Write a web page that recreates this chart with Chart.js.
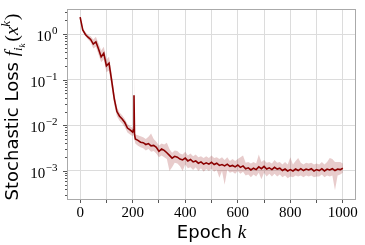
<!DOCTYPE html>
<html>
<head>
<meta charset="utf-8">
<script src="https://cdn.jsdelivr.net/npm/chart.js@4.4.1/dist/chart.umd.min.js"></script>
<style>
html, body { margin: 0; padding: 0; background: #fff; }
#wrap { width: 365px; height: 245px; }
</style>
</head>
<body>
<div id="wrap"><canvas id="lossChart"></canvas></div>
<script>
// epochs (a few extra points around the spike near 205)
var epochs = [0, 10, 20, 30, 40, 50, 60, 70, 80, 90,
    100, 110, 120, 130, 140, 150, 160, 170, 180, 190,
    200, 203, 205, 207,
    210, 220, 230, 240, 250, 260, 270, 280, 290, 300,
    310, 320, 330, 340, 350, 360, 370, 380, 390, 400,
    410, 420, 430, 440, 450, 460, 470, 480, 490, 500,
    510, 520, 530, 540, 550, 560, 570, 580, 590, 600,
    610, 620, 630, 640, 650, 660, 670, 680, 690, 700,
    710, 720, 730, 740, 750, 760, 770, 780, 790, 800,
    810, 820, 830, 840, 850, 860, 870, 880, 890, 900,
    910, 920, 930, 940, 950, 960, 970, 980, 990, 1000];

var lossMean = [2.34, 1.23, 0.977, 0.851, 0.759, 0.603, 0.676, 0.468, 0.316, 0.380,
    0.200, 0.229, 0.0955, 0.0380, 0.0200, 0.0158, 0.0138, 0.0115, 0.00871, 0.00794,
    0.00708, 0.00794, 0.0457, 0.00631,
    0.00501, 0.00468, 0.00427, 0.00417, 0.00380, 0.00398, 0.00355, 0.00363, 0.00331, 0.00269,
    0.00302, 0.00282, 0.00251, 0.00219, 0.00191, 0.00209, 0.00200, 0.00182, 0.00174, 0.00191,
    0.00166, 0.00178, 0.00158, 0.00166, 0.00148, 0.00158, 0.00141, 0.00151, 0.00141, 0.00155,
    0.00138, 0.00148, 0.00132, 0.00138, 0.00129, 0.00141, 0.00126, 0.00132, 0.00123, 0.00135,
    0.00120, 0.00129, 0.00112, 0.00117, 0.00105, 0.00115, 0.00107, 0.00123, 0.00112, 0.00126,
    0.00110, 0.00117, 0.00107, 0.00120, 0.00110, 0.00115, 0.00102, 0.00110, 0.00100, 0.00107,
    0.00100, 0.00110, 0.00102, 0.00112, 0.00102, 0.00110, 0.00105, 0.00112, 0.00100, 0.00107,
    0.00102, 0.00112, 0.00100, 0.00110, 0.00105, 0.00112, 0.00102, 0.00110, 0.00107, 0.00115];

var lossUpper = [2.45, 1.32, 1.10, 0.955, 0.891, 0.759, 0.871, 0.631, 0.437, 0.525,
    0.275, 0.316, 0.138, 0.0501, 0.0251, 0.0191, 0.0166, 0.0138, 0.0107, 0.00955,
    0.00871, 0.0100, 0.162, 0.00794,
    0.00631, 0.00603, 0.00575, 0.00550, 0.00501, 0.00562, 0.00661, 0.00501, 0.00437, 0.00363,
    0.00398, 0.00380, 0.00417, 0.00302, 0.00251, 0.00282, 0.00275, 0.00240, 0.00229, 0.00263,
    0.00219, 0.00240, 0.00209, 0.00229, 0.00200, 0.00209, 0.00191, 0.00209, 0.00191, 0.00219,
    0.00191, 0.00200, 0.00182, 0.00200, 0.00174, 0.00200, 0.00166, 0.00182, 0.00166, 0.00182,
    0.00200, 0.00219, 0.00151, 0.00158, 0.00145, 0.00158, 0.00145, 0.00229, 0.00158, 0.00174,
    0.00151, 0.00158, 0.00145, 0.00174, 0.00151, 0.00158, 0.00138, 0.00158, 0.00138, 0.00200,
    0.00138, 0.00166, 0.00191, 0.00151, 0.00138, 0.00151, 0.00145, 0.00151, 0.00138, 0.00145,
    0.00138, 0.00158, 0.00138, 0.00158, 0.00191, 0.00182, 0.00158, 0.00158, 0.00158, 0.00145];

var lossLower = [2.24, 1.15, 0.891, 0.759, 0.661, 0.479, 0.525, 0.355, 0.240, 0.275,
    0.145, 0.158, 0.0661, 0.0275, 0.0158, 0.0126, 0.0110, 0.00912, 0.00692, 0.00631,
    0.00575, 0.00631, 0.00891, 0.00479,
    0.00398, 0.00355, 0.00331, 0.00316, 0.00282, 0.00302, 0.00263, 0.00275, 0.00240, 0.00200,
    0.00219, 0.00200, 0.00182, 0.00100, 0.00120, 0.00151, 0.00145, 0.00126, 0.00100, 0.00138,
    0.00115, 0.00120, 0.00105, 0.00120, 0.00100, 0.00115, 0.000955, 0.00110, 0.00100, 0.00112,
    0.000955, 0.00105, 0.000708, 0.00100, 0.000501, 0.00105, 0.000912, 0.000955, 0.000871, 0.00100,
    0.000871, 0.000955, 0.000794, 0.000832, 0.000724, 0.000832, 0.000759, 0.000912, 0.000661, 0.000912,
    0.000759, 0.000871, 0.000759, 0.000871, 0.000759, 0.000832, 0.000724, 0.000794, 0.000692, 0.000759,
    0.000724, 0.000794, 0.000759, 0.000794, 0.000724, 0.000794, 0.000759, 0.000794, 0.000724, 0.000759,
    0.000759, 0.000832, 0.000724, 0.000794, 0.000759, 0.000794, 0.000380, 0.000794, 0.000832, 0.000912];

var xTickValues = [0, 100, 200, 300, 400, 500, 600, 700, 800, 900, 1000];
var xLabelValues = [0, 200, 400, 600, 800, 1000];
var yTickValues = [1, 0.1, 0.01, 0.001];
var yTickExps = ['0', '\u22121', '\u22122', '\u22123'];

var RED = '#8b0000';
var BAND = 'rgba(139,0,0,0.2)';
var SERIF = '"Liberation Serif", "DejaVu Serif", serif';
var SANS = '"DejaVu Sans", sans-serif';

function toPoints(vals) {
    return epochs.map(function(e, i) { return {x: e, y: vals[i]}; });
}

// draw a row of text pieces (different fonts / raised or lowered) centred on 0
function drawParts(ctx, parts) {
    var total = 0;
    parts.forEach(function(p) {
        ctx.font = p.f;
        p.w = ctx.measureText(p.t).width;
        total += p.w + (p.gap || 0);
    });
    var x = -total / 2;
    parts.forEach(function(p) {
        x += (p.gap || 0);
        ctx.font = p.f;
        ctx.fillText(p.t, x, p.dy || 0);
        x += p.w;
    });
}

var extras = {
    id: 'extras',
    afterDraw: function(chart) {
        var ctx = chart.ctx;
        var a = chart.chartArea;
        var ys = chart.scales.y;
        ctx.save();

        // frame
        ctx.strokeStyle = '#aaaaaa';
        ctx.lineWidth = 1;
        ctx.strokeRect(a.left + 0.5, a.top + 0.5, a.right - a.left - 1, a.bottom - a.top);

        // y ticks, major and minor
        ctx.strokeStyle = '#555';
        for (var n = -4; n <= 0; n++) {
            for (var m = 1; m <= 9; m++) {
                var v = m * Math.pow(10, n);
                if (v < ys.min || v > ys.max) continue;
                var py = Math.round(ys.getPixelForValue(v)) + 0.5;
                ctx.beginPath();
                ctx.moveTo(a.left, py);
                ctx.lineTo(a.left - (m === 1 ? 4 : 2), py);
                ctx.stroke();
            }
        }

        // y tick labels 10^n
        ctx.fillStyle = '#000';
        ctx.textBaseline = 'alphabetic';
        ctx.textAlign = 'left';
        yTickValues.forEach(function(v, i) {
            var py = ys.getPixelForValue(v);
            ctx.font = '11px ' + SERIF;
            var we = ctx.measureText(yTickExps[i]).width;
            ctx.font = '15px ' + SERIF;
            var wb = ctx.measureText('10').width;
            var x0 = 57 - we - wb;
            ctx.fillText('10', x0, py + 7);
            ctx.font = '11px ' + SERIF;
            ctx.fillText(yTickExps[i], x0 + wb + 0.5, py);
        });

        // axis titles
        ctx.save();
        ctx.translate((a.left + a.right) / 2, 238);
        drawParts(ctx, [
            {t: 'Epoch ', f: '18px ' + SANS},
            {t: 'k', f: 'italic 19px ' + SERIF}
        ]);
        ctx.restore();

        ctx.save();
        ctx.translate(18, 107);
        ctx.rotate(-Math.PI / 2);
        drawParts(ctx, [
            {t: 'Stochastic Loss ', f: '18px ' + SANS},
            {t: 'f', f: 'italic 19px ' + SERIF},
            {t: 'i', f: 'italic 13px ' + SERIF, dy: 4},
            {t: 'k', f: 'italic 9px ' + SERIF, dy: 7},
            {t: '(', f: '19px ' + SERIF, gap: 2},
            {t: 'x', f: 'italic 19px ' + SERIF},
            {t: 'k', f: 'italic 13px ' + SERIF, dy: -8},
            {t: ')', f: '19px ' + SERIF, gap: 1}
        ]);
        ctx.restore();

        ctx.restore();
    }
};

new Chart(document.getElementById('lossChart'), {
    type: 'line',
    data: {
        datasets: [
            {label: 'mean', data: toPoints(lossMean), borderColor: RED, borderWidth: 1.6,
                pointRadius: 0, fill: false, tension: 0},
            {label: 'upper', data: toPoints(lossUpper), borderWidth: 0, borderColor: 'rgba(0,0,0,0)',
                backgroundColor: BAND, pointRadius: 0, fill: '+1', tension: 0},
            {label: 'lower', data: toPoints(lossLower), borderWidth: 0, borderColor: 'rgba(0,0,0,0)',
                pointRadius: 0, fill: false, tension: 0}
        ]
    },
    options: {
        responsive: true,
        maintainAspectRatio: false,
        animation: false,
        layout: {padding: {top: 9, right: 9, left: 0, bottom: 0}},
        plugins: {legend: {display: false}, tooltip: {enabled: false}},
        scales: {
            x: {
                type: 'linear', min: -50, max: 1050,
                afterBuildTicks: function(s) { s.ticks = xTickValues.map(function(v) { return {value: v}; }); },
                afterFit: function(s) { s.height = 46; },
                ticks: {
                    autoSkip: false, maxRotation: 0, padding: 1, color: '#000',
                    font: {family: SERIF, size: 15},
                    callback: function(v) { return xLabelValues.indexOf(v) >= 0 ? String(v) : ''; }
                },
                grid: {color: '#dcdcdc', tickColor: '#555', tickLength: 4},
                border: {display: false}
            },
            y: {
                type: 'logarithmic', min: 2.43e-4, max: 3.53,
                afterBuildTicks: function(s) { s.ticks = yTickValues.map(function(v) { return {value: v}; }); },
                afterFit: function(s) { s.width = 67; },
                ticks: {display: false},
                grid: {color: '#dcdcdc', drawTicks: false},
                border: {display: false}
            }
        }
    },
    plugins: [extras]
});
</script>
</body>
</html>
